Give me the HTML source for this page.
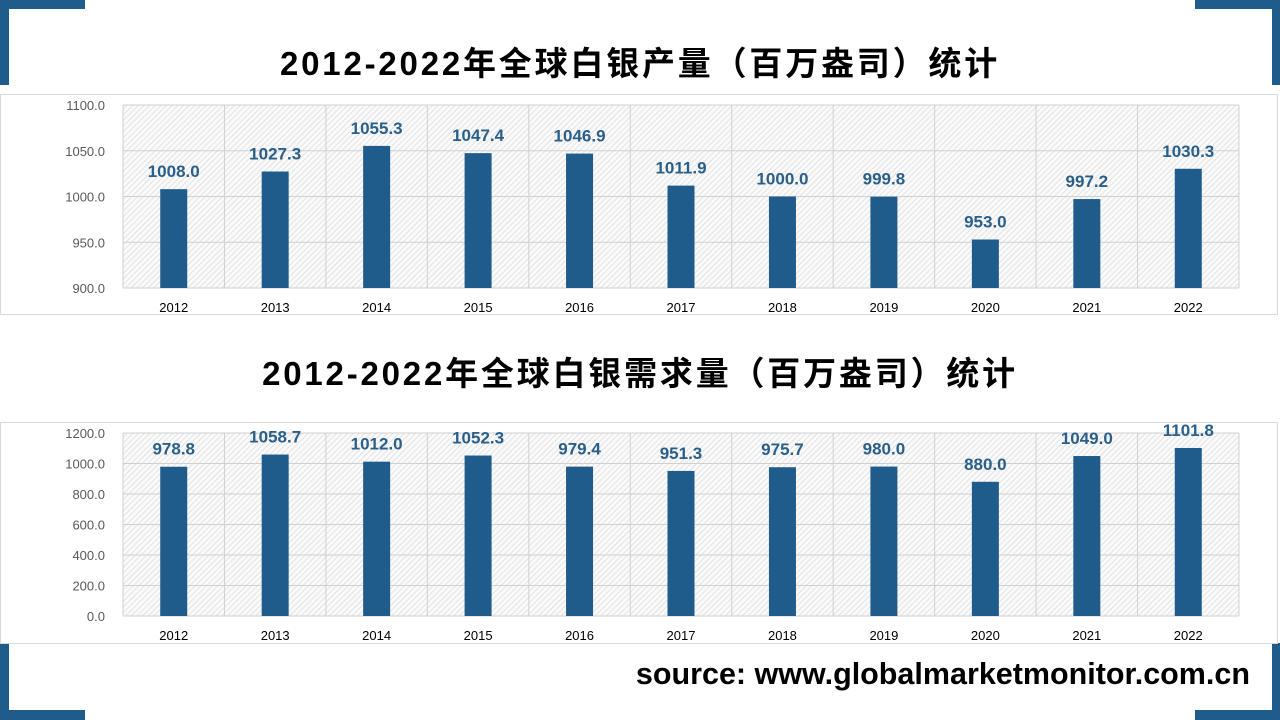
<!DOCTYPE html>
<html><head><meta charset="utf-8"><style>
html,body{margin:0;padding:0;background:#fff;width:1280px;height:720px;overflow:hidden;position:relative;font-family:"Liberation Sans","Noto Sans CJK SC",sans-serif}
.br{position:absolute;background:#1f5c8b}
.title{position:absolute;left:0;width:1280px;text-align:center;font-weight:bold;font-size:33px;letter-spacing:2.8px;color:#000;font-family:"Liberation Sans","Noto Sans CJK SC",sans-serif}
.box{position:absolute;left:0;width:1278px;border:1px solid #d9d9d9;box-sizing:border-box}
</style></head><body>
<div class="br" style="left:0;top:0;width:85px;height:9px"></div>
<div class="br" style="left:0;top:0;width:9px;height:85px"></div>
<div class="br" style="left:1195px;top:0;width:85px;height:9px"></div>
<div class="br" style="left:1272px;top:0;width:8px;height:85px"></div>
<div class="br" style="left:0;top:643px;width:9px;height:77px"></div>
<div class="br" style="left:0;top:710px;width:85px;height:10px"></div>
<div class="br" style="left:1272px;top:643px;width:8px;height:77px"></div>
<div class="br" style="left:1195px;top:710px;width:85px;height:10px"></div>
<div class="title" style="top:37px">2012-2022年全球白银产量（百万盎司）统计</div>
<div class="title" style="top:347px">2012-2022年全球白银需求量（百万盎司）统计</div>
<div class="box" style="top:94px;height:221px"></div>
<div class="box" style="top:422px;height:222px"></div>
<svg id="svg" width="1280" height="720" style="position:absolute;left:0;top:0">
<defs><pattern id="hatch" width="4" height="4" patternUnits="userSpaceOnUse" patternTransform="rotate(45)"><rect width="4" height="4" fill="#fafafa"/><line x1="0" y1="0" x2="0" y2="4" stroke="#d4d4d4" stroke-width="1.2"/></pattern></defs>
</svg>
<div style="position:absolute;right:30px;top:657px;font-size:30.5px;font-weight:bold;color:#000">source: www.globalmarketmonitor.com.cn</div>
<script>
const years=["2012","2013","2014","2015","2016","2017","2018","2019","2020","2021","2022"];
const production=[1008.0,1027.3,1055.3,1047.4,1046.9,1011.9,1000.0,999.8,953.0,997.2,1030.3];
const demand=[978.8,1058.7,1012.0,1052.3,979.4,951.3,975.7,980.0,880.0,1049.0,1101.8];
const prodTicks=[900,950,1000,1050,1100];
const demandTicks=[0,200,400,600,800,1000,1200];
const NS="http://www.w3.org/2000/svg";
const svg=document.getElementById('svg');
function mk(tag,attrs){const e=document.createElementNS(NS,tag);for(const k in attrs)e.setAttribute(k,attrs[k]);svg.appendChild(e);return e;}
function draw(prefix,vals,ticks,top,bottom){
  const x0=123,x1=1239,min=ticks[0],max=ticks[ticks.length-1];
  const y=v=>bottom-(v-min)/(max-min)*(bottom-top);
  const bw=(x1-x0)/vals.length;
  const bg=mk('rect',{x:x0,y:top,width:x1-x0,height:bottom-top,fill:'url(#hatch)'});
  
  
  ticks.forEach(t=>{
    const l=mk('line',{x1:x0,x2:x1,y1:y(t),y2:y(t),stroke:'#d0d0d0','stroke-width':1});
    
    
    const tx=mk('text',{x:x0-18,y:y(t)+5,'text-anchor':'end','font-size':13,fill:'#595959','font-family':'Liberation Sans, sans-serif'});
    tx.textContent=t.toFixed(1);
    
    
  });
  for(let i=0;i<=vals.length;i++){
    const l=mk('line',{x1:x0+i*bw,x2:x0+i*bw,y1:top,y2:bottom,stroke:'#d0d0d0','stroke-width':1});
    
    
  }
  vals.forEach((v,i)=>{
    const cx=x0+(i+0.5)*bw;
    const r=mk('rect',{x:cx-13.5,y:y(v),width:27,height:bottom-y(v),fill:'#1f5c8b'});
    
    
    const lb=mk('text',{x:cx,y:y(v)-12,'text-anchor':'middle','font-size':17,'font-weight':'bold',fill:'#2a5f8a','font-family':'Liberation Sans, sans-serif'});
    lb.textContent=v.toFixed(1);
    
    
    const xl=mk('text',{x:cx,y:bottom+24,'text-anchor':'middle','font-size':13,fill:'#000','font-family':'Liberation Sans, sans-serif'});
    xl.textContent=years[i];
    
    
  });
}
draw('production',production,prodTicks,105,288);
draw('demand',demand,demandTicks,433,616);
</script>
</body></html>
